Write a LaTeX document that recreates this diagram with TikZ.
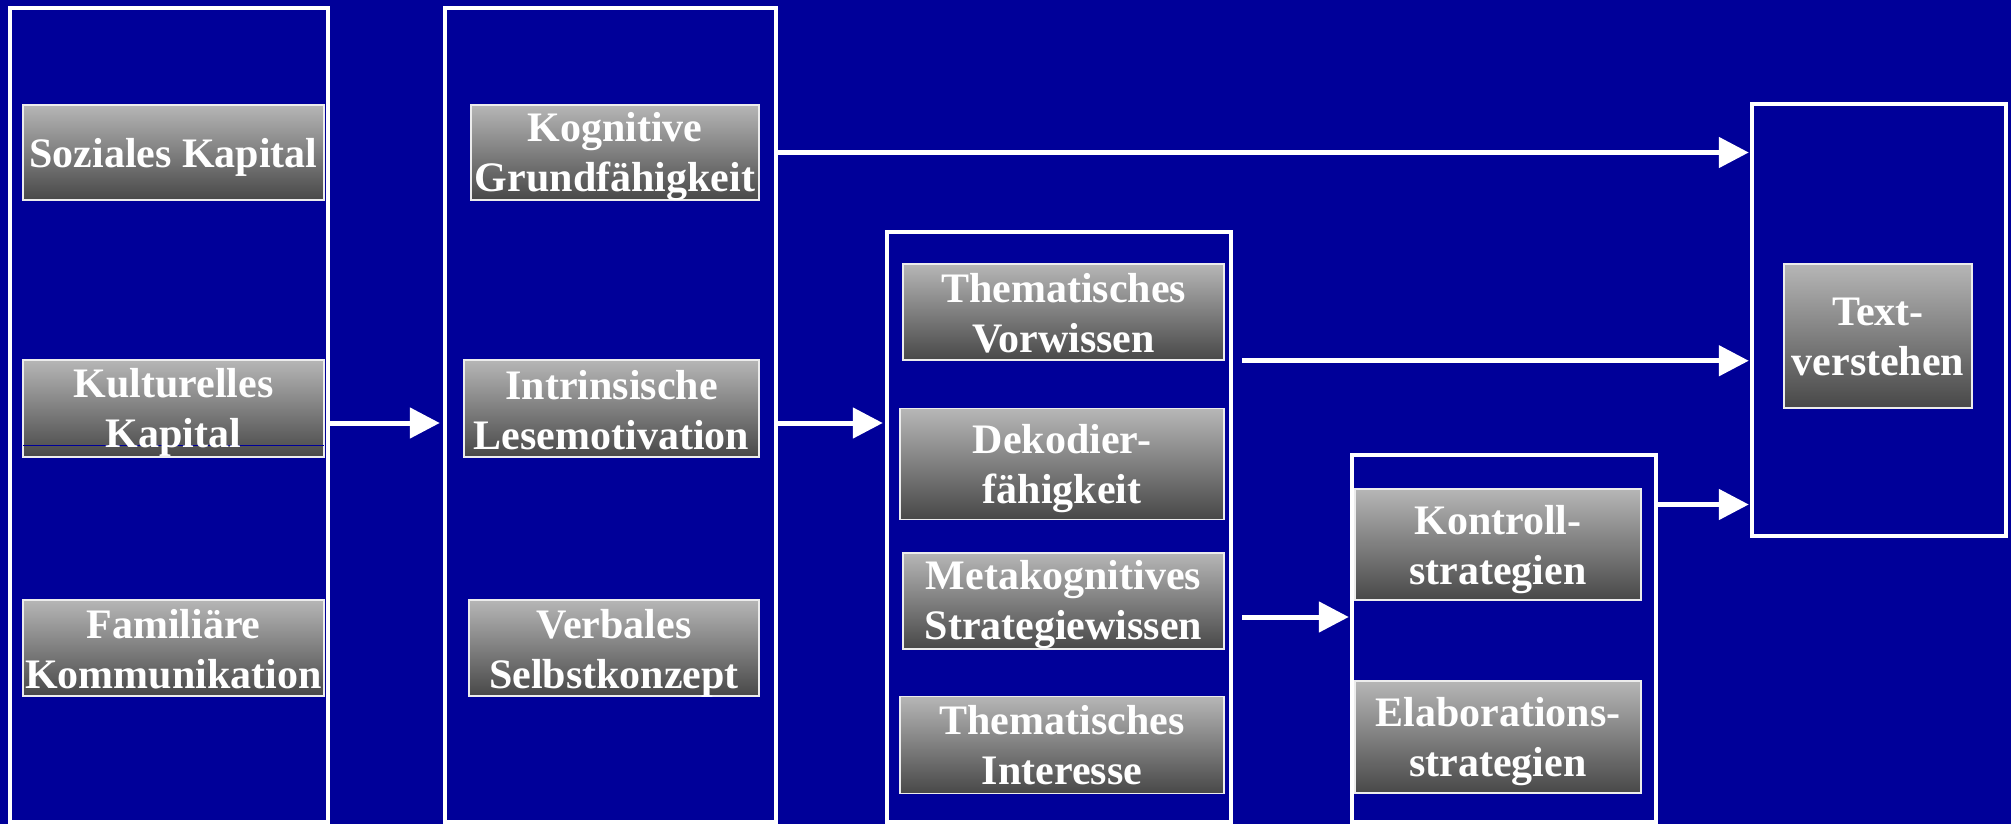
\documentclass[tikz,border=0pt]{standalone}
\usepackage{fontspec}
\setmainfont{Liberation Serif}
\usetikzlibrary{arrows.meta,calc}
\definecolor{bgblue}{RGB}{0,0,153}
\definecolor{gtop}{RGB}{182,182,182}
\definecolor{gbot}{RGB}{72,72,72}
\begin{document}
\begin{tikzpicture}[x=1pt,y=-1pt,
  frame/.style={draw=white, line width=4.5pt, inner sep=0pt},
  gbox/.style={draw=white!85!gray, line width=1.5pt, top color=gtop, bottom color=gbot, inner sep=0pt},
  gtext/.style={text=white, font=\bfseries\fontsize{42}{50}\selectfont, align=center, inner sep=0pt},
  arr/.style={draw=white, line width=5pt, -{Triangle[length=30pt,width=30pt]}}]
\fill[bgblue] (0,0) rectangle (2011,824);
\useasboundingbox (0,0) rectangle (2011,824);

% frames
\node[frame, minimum width=318pt, minimum height=814pt] (A) at (169,415) {};
\node[frame, minimum width=331pt, minimum height=814pt] (B) at (610.5,415) {};
\node[frame, minimum width=344pt, minimum height=590pt] (C) at (1059,527) {};
\node[frame, minimum width=304pt, minimum height=367pt] (D) at (1504,638.5) {};
\node[frame, minimum width=254pt, minimum height=432pt] (E) at (1879,320) {};

% gray boxes
\node[gbox, minimum width=301pt, minimum height=95pt] (A1) at (173.5,152.5) {};
\node[gbox, minimum width=301pt, minimum height=97pt] (A2) at (173.5,408.5) {};
\node[gbox, minimum width=301pt, minimum height=96pt] (A3) at (173.5,648) {};
\node[gbox, minimum width=288pt, minimum height=95pt] (B1) at (615,152.5) {};
\node[gbox, minimum width=295pt, minimum height=97pt] (B2) at (611.5,408.5) {};
\node[gbox, minimum width=290pt, minimum height=96pt] (B3) at (614,648) {};
\node[gbox, minimum width=321pt, minimum height=96pt] (C1) at (1063.5,312) {};
\node[gbox, minimum width=324pt, minimum height=111pt] (C2) at (1062,464) {};
\node[gbox, minimum width=321pt, minimum height=96pt] (C3) at (1063.5,601) {};
\node[gbox, minimum width=324pt, minimum height=97pt] (C4) at (1062,745) {};
\node[gbox, minimum width=286pt, minimum height=111pt] (D1) at (1498,544.5) {};
\node[gbox, minimum width=286pt, minimum height=112pt] (D2) at (1498,737) {};
\node[gbox, minimum width=188pt, minimum height=144pt] (E1) at (1878,336) {};

\draw[bgblue, line width=1pt] ($(A2.south west)+(1,-12)$) -- ($(A2.south east)+(-1,-12)$);

% texts
\node[gtext] (A1t) at ([yshift=-5pt]A1.center) {Soziales Kapital};
\node[gtext] (A2t) at ([yshift=-4pt]A2.center) {Kulturelles\\Kapital};
\node[gtext] (A3t) at ([yshift=-1pt]A3.center) {Familiäre\\Kommunikation};
\node[gtext] (B1t) at ([yshift=-4pt]B1.center) {Kognitive\\Grundfähigkeit};
\node[gtext] (B2t) at ([yshift=-2pt]B2.center) {Intrinsische\\Lesemotivation};
\node[gtext] (B3t) at ([yshift=-5pt]B3.center) {Verbales\\Selbstkonzept};
\node[gtext] (C1t) at ([yshift=-1pt]C1.center) {Thematisches\\Vorwissen};
\node[gtext] (C2t) at ([yshift=-5pt]C2.center) {Dekodier-\\fähigkeit};
\node[gtext] (C3t) at ([yshift=-4pt]C3.center) {Metakognitives\\Strategiewissen};
\node[gtext] (C4t) at ([yshift=0pt]C4.center) {Thematisches\\Interesse};
\node[gtext] (D1t) at ([yshift=-5pt]D1.center) {Kontroll-\\strategien};
\node[gtext] (D2t) at ([yshift=-5pt]D2.center) {Elaborations-\\strategien};
\node[gtext] (E1t) at ([yshift=-1pt]E1.center) {Text-\\verstehen};

% arrows
\draw[arr] ($(A.east)+(0,8)$) -- ($(B.west)+(-3,8)$);
\draw[arr] ($(B.east)+(0,8)$) -- ($(C.west |- B.east)+(-2,8)$);
\draw[arr] (B.east |- B1) -- ($(E.west |- B1)+(-1,0)$);
\draw[arr] ($(C.east |- C1.south)+(9,0)$) -- ($(E.west |- C1.south)+(-1,0)$);
\draw[arr] ($(C.east |- C3)+(9,16)$) -- ($(D.west |- C3)+(-1,16)$);
\draw[arr] ($(D.east |- D1)+(0,-40)$) -- ($(E.west |- D1)+(-1,-40)$);
\end{tikzpicture}
\end{document}
